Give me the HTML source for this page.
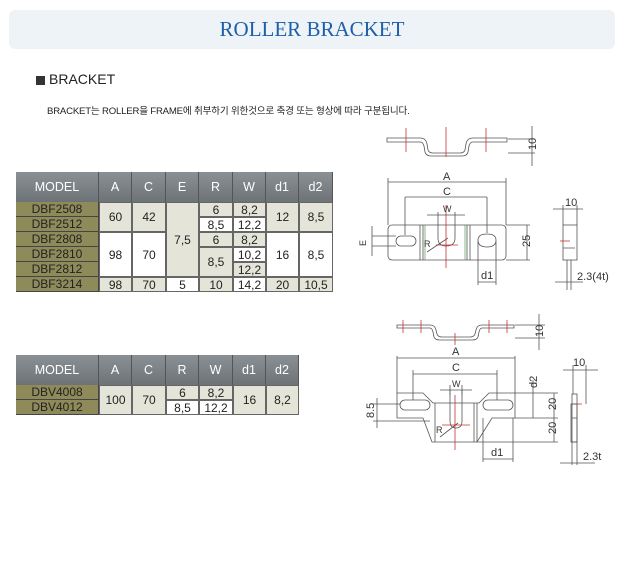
<!DOCTYPE html>
<html><head><meta charset="utf-8"><style>
body{margin:0;width:630px;height:583px;background:#fff;position:relative;font-family:"Liberation Sans","Noto Sans CJK KR",sans-serif;overflow:hidden}
.banner{position:absolute;left:9px;top:10px;width:606px;height:39px;background:#eef3f8;border-radius:6px}
.banner span{position:absolute;left:0;right:0;top:7px;text-align:center;font-family:"Liberation Serif",serif;font-size:21px;color:#1f5fa8}
.c{position:absolute;box-sizing:border-box;display:flex;align-items:center;justify-content:center;font-size:12px;color:#222}
.h{background:linear-gradient(#8b9094,#6e7377);color:#fff;border-right:1px solid #555;font-size:12.5px}
.m{background:#8e8a5a;color:#222;border-bottom:1px solid #444;border-right:1px solid #444}
.l{background:#e5e4d8;border:1px solid #666}
.w{background:#fff;border:1px solid #666}
svg text{font-family:"Liberation Sans",sans-serif;font-size:11px;fill:#333;stroke:none}
</style></head><body>
<div class="banner"><span>ROLLER BRACKET</span></div>
<div style="position:absolute;left:36px;top:76px;width:9px;height:9px;background:#333"></div>
<div style="position:absolute;left:49px;top:71px;font-size:14px;color:#222">BRACKET</div>
<div style="position:absolute;left:47px;top:103px;font-size:9.6px;color:#222;letter-spacing:-0.2px">BRACKET는 ROLLER을 FRAME에 취부하기 위한것으로 축경 또는 형상에 따라 구분됩니다.</div>

<!-- table 1 -->
<div style="position:absolute;left:16px;top:172px;width:317px;height:120px;background:#555"></div>
<div class="c h" style="left:16px;top:172px;width:83px;height:30px">MODEL</div>
<div class="c h" style="left:99px;top:172px;width:33px;height:30px">A</div>
<div class="c h" style="left:132px;top:172px;width:34px;height:30px">C</div>
<div class="c h" style="left:166px;top:172px;width:33px;height:30px">E</div>
<div class="c h" style="left:199px;top:172px;width:34px;height:30px">R</div>
<div class="c h" style="left:233px;top:172px;width:33px;height:30px">W</div>
<div class="c h" style="left:266px;top:172px;width:33px;height:30px">d1</div>
<div class="c h" style="left:299px;top:172px;width:34px;height:30px">d2</div>
<div class="c m" style="left:16px;top:202px;width:83px;height:15px">DBF2508</div>
<div class="c m" style="left:16px;top:217px;width:83px;height:15px">DBF2512</div>
<div class="c m" style="left:16px;top:232px;width:83px;height:15px">DBF2808</div>
<div class="c m" style="left:16px;top:247px;width:83px;height:15px">DBF2810</div>
<div class="c m" style="left:16px;top:262px;width:83px;height:15px">DBF2812</div>
<div class="c m" style="left:16px;top:277px;width:83px;height:15px">DBF3214</div>
<div class="c l" style="left:99px;top:202px;width:33px;height:30px">60</div>
<div class="c l" style="left:132px;top:202px;width:34px;height:30px">42</div>
<div class="c l" style="left:166px;top:202px;width:33px;height:75px">7,5</div>
<div class="c l" style="left:199px;top:202px;width:34px;height:15px">6</div>
<div class="c l" style="left:233px;top:202px;width:33px;height:15px">8,2</div>
<div class="c w" style="left:199px;top:217px;width:34px;height:15px">8,5</div>
<div class="c w" style="left:233px;top:217px;width:33px;height:15px">12,2</div>
<div class="c l" style="left:266px;top:202px;width:33px;height:30px">12</div>
<div class="c l" style="left:299px;top:202px;width:34px;height:30px">8,5</div>
<div class="c w" style="left:99px;top:232px;width:33px;height:45px">98</div>
<div class="c w" style="left:132px;top:232px;width:34px;height:45px">70</div>
<div class="c l" style="left:199px;top:232px;width:34px;height:15px">6</div>
<div class="c l" style="left:233px;top:232px;width:33px;height:15px">8,2</div>
<div class="c l" style="left:199px;top:247px;width:34px;height:30px">8,5</div>
<div class="c w" style="left:233px;top:247px;width:33px;height:15px">10,2</div>
<div class="c l" style="left:233px;top:262px;width:33px;height:15px">12,2</div>
<div class="c w" style="left:266px;top:232px;width:33px;height:45px">16</div>
<div class="c w" style="left:299px;top:232px;width:34px;height:45px">8,5</div>
<div class="c l" style="left:99px;top:277px;width:33px;height:15px">98</div>
<div class="c l" style="left:132px;top:277px;width:34px;height:15px">70</div>
<div class="c w" style="left:166px;top:277px;width:33px;height:15px">5</div>
<div class="c l" style="left:199px;top:277px;width:34px;height:15px">10</div>
<div class="c w" style="left:233px;top:277px;width:33px;height:15px">14,2</div>
<div class="c l" style="left:266px;top:277px;width:33px;height:15px">20</div>
<div class="c l" style="left:299px;top:277px;width:34px;height:15px">10,5</div>

<!-- table 2 -->
<div style="position:absolute;left:16px;top:355px;width:283px;height:60px;background:#555"></div>
<div class="c h" style="left:16px;top:355px;width:83px;height:30px">MODEL</div>
<div class="c h" style="left:99px;top:355px;width:33px;height:30px">A</div>
<div class="c h" style="left:132px;top:355px;width:34px;height:30px">C</div>
<div class="c h" style="left:166px;top:355px;width:33px;height:30px">R</div>
<div class="c h" style="left:199px;top:355px;width:34px;height:30px">W</div>
<div class="c h" style="left:233px;top:355px;width:33px;height:30px">d1</div>
<div class="c h" style="left:266px;top:355px;width:33px;height:30px">d2</div>
<div class="c m" style="left:16px;top:385px;width:83px;height:15px">DBV4008</div>
<div class="c m" style="left:16px;top:400px;width:83px;height:15px">DBV4012</div>
<div class="c l" style="left:99px;top:385px;width:33px;height:30px">100</div>
<div class="c l" style="left:132px;top:385px;width:34px;height:30px">70</div>
<div class="c l" style="left:166px;top:385px;width:33px;height:15px">6</div>
<div class="c l" style="left:199px;top:385px;width:34px;height:15px">8,2</div>
<div class="c w" style="left:166px;top:400px;width:33px;height:15px">8,5</div>
<div class="c w" style="left:199px;top:400px;width:34px;height:15px">12,2</div>
<div class="c l" style="left:233px;top:385px;width:33px;height:30px">16</div>
<div class="c l" style="left:266px;top:385px;width:33px;height:30px">8,2</div>

<svg style="position:absolute;left:0;top:0" width="630" height="583" fill="none" stroke="#555" stroke-width="0.8">
<!-- drawing 1 top view -->
<path d="M387,138 H420 Q426,138 427,144 L428,150 Q429,153 433,153 H460 Q464,153 465,150 L466,144 Q467,138 473,138 H507 V142 H473 Q470,142 469,146 L468,152 Q467,156 462,156 H431 Q426,156 425,152 L424,146 Q423,142 420,142 H387 Z"/>
<path d="M406,128 V152 M446,127 V157 M486,128 V152" stroke="#c33"/>
<path d="M508,139 H535 M508,153 H535 M532,126 V166"/>
<text x="527" y="151" transform="rotate(-90 531 146)">10</text>
<!-- drawing 1 front -->
<rect x="388" y="225" width="118" height="35" rx="4"/>
<rect x="396" y="236" width="20" height="10" rx="5"/>
<path d="M478,260 V240 Q478,234 487,234 Q496,234 496,240 V260 M478,240 Q478,247 487,247 Q496,247 496,240"/>
<path d="M438,225 V238 Q438,246 446,246 Q455,246 455,238 V225"/>
<path d="M423,225 V260 M467,225 V260 M470,225 V260 M420,225 V260" />
<path d="M425,225 V260 M465,225 V260" stroke="#6a6"/>
<path d="M446,205 V268 M436,245 H458" stroke="#c33"/>
<path d="M388,178 V225 M506,178 V225 M388,182 H506 M405,197 V235 M487,197 V233 M405,197 H487 M438,212 V225 M455,212 V225 M427,215 H465"/>
<text x="443" y="180">A</text><text x="443" y="195">C</text><text x="443" y="212" style="font-size:9px">W</text>
<path d="M506,225 H530 M506,260 H530 M527,225 V260"/>
<text x="523" y="246" transform="rotate(-90 527 243)">25</text>
<path d="M372,236 H396 M372,246 H396 M372,226 V256"/>
<text x="357" y="245" transform="rotate(-90 362 241)" style="font-size:9px">E</text>
<path d="M427,252 L448,238"/><text x="424" y="247" style="font-size:9px">R</text>
<path d="M478,260 V285 M496,260 V285 M478,282 H496"/><text x="481" y="279">d1</text>
<rect x="563" y="225" width="14" height="35"/>
<path d="M563,205 V225 M577,205 V225 M553,209 H583 M567,260 V290 M571,260 V290 M555,282 H583 M563,248 H575"/>
<path d="M560,241 H570" stroke="#c33"/>
<text x="565" y="206">10</text><text x="577" y="280">2.3(4t)</text>
<!-- drawing 2 top view -->
<path d="M397,325 H430 Q435,325 436,330 L437,334 Q438,337 442,337 H470 Q474,337 475,334 L476,330 Q477,325 482,325 H514 V328 H482 Q480,328 479,332 L478,337 Q477,340 472,340 H440 Q435,340 434,337 L433,332 Q432,328 430,328 H397 Z"/>
<path d="M403,320 V333 M421,320 V333 M455,333 V345 M489,320 V333 M507,320 V333" stroke="#c33"/>
<path d="M515,325 H545 M515,338 H545 M539,314 V350"/>
<text x="534" y="338" transform="rotate(-90 538 333)">10</text>
<!-- drawing 2 front -->
<path d="M397,393 H423 L433,403 H479 L489,393 H515 V418 H492 L477,442 H432 L423,418 H397 Z"/>
<path d="M435,403 V442 M477,403 V442 M474,403 V442"/>
<rect x="400" y="400" width="30" height="10" rx="5"/><rect x="483" y="400" width="30" height="10" rx="5"/>
<path d="M450,390 V421 Q450,428 456,428 Q462,428 462,421 V390"/>
<path d="M455,395 V450 M442,425 H470" stroke="#c33"/>
<path d="M397,356 V393 M515,356 V393 M397,358 H515 M413,370 V400 M497,370 V400 M413,374 H497 M450,385 V395 M462,385 V395 M440,390 H472"/>
<text x="452" y="355">A</text><text x="452" y="371">C</text><text x="452" y="387" style="font-size:9px">W</text>
<path d="M373,404 H400 M373,421 H430 M377,398 V428"/>
<text x="364" y="418" transform="rotate(-90 369 413)">8.5</text>
<path d="M440,437 L458,423"/><text x="436" y="433" style="font-size:9px">R</text>
<path d="M483,418 V462 M513,418 V462 M483,459 H513"/><text x="491" y="456">d1</text>
<path d="M515,393 H558 M515,418 H558 M477,442 H558 M533,393 V418 M554,393 V418 M554,418 V442 M533,380 V405"/>
<text x="528" y="391" transform="rotate(-90 531 385)">d2</text>
<text x="548" y="412" transform="rotate(-90 551 407)">20</text>
<text x="548" y="436" transform="rotate(-90 551 431)">20</text>
<rect x="572" y="394" width="5" height="48"/><path d="M572,404 H577 M572,418 H577"/>
<rect x="571" y="404" width="6" height="38"/>
<path d="M573,365 V394 M586,365 V404 M563,370 H598 M572,442 V465 M577,442 V465 M560,463 H595"/>
<path d="M575,404 H582" stroke="#c33"/>
<text x="573" y="366">10</text><text x="583" y="460">2.3t</text>
</svg>
</body></html>
